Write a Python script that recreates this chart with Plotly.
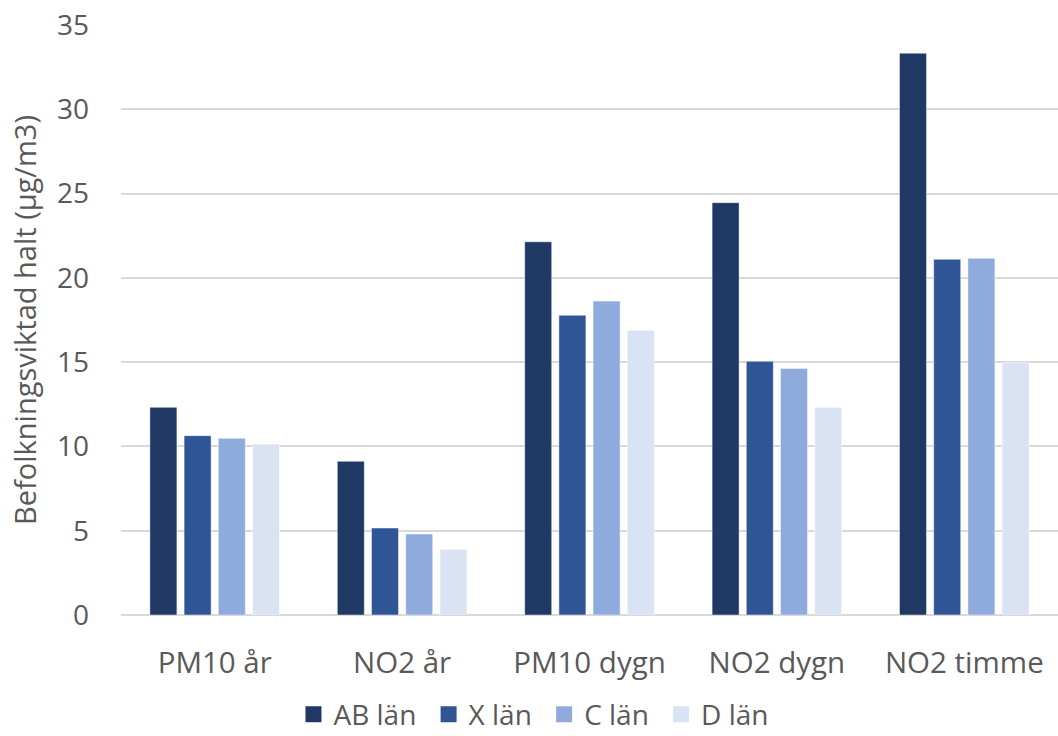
import plotly.graph_objects as go

categories = ["PM10 år", "NO2 år", "PM10 dygn", "NO2 dygn", "NO2 timme"]
series_names = ["AB län", "X län", "C län", "D län"]
ab_values = [12.32, 9.12, 22.14, 24.46, 33.33]
x_values = [10.64, 5.16, 17.78, 15.05, 21.10]
c_values = [10.48, 4.80, 18.62, 14.63, 21.16]
d_values = [10.14, 3.90, 16.89, 12.32, 14.96]
colors = ["#203864", "#2F5597", "#8FAADC", "#DAE3F3"]
y_ticks = [0, 5, 10, 15, 20, 25, 30, 35]

fig = go.Figure()
for name, vals, col in zip(series_names, [ab_values, x_values, c_values, d_values], colors):
    fig.add_trace(go.Bar(x=categories, y=vals, name=name, showlegend=False,
                         marker=dict(color=col, line=dict(color="rgba(255,255,255,0.6)", width=0.8))))
# legend entries with larger square symbols
for name, col in zip(series_names, colors):
    fig.add_trace(go.Scatter(x=[None], y=[None], mode="markers", name=name + "\u00a0",
                             marker=dict(symbol="square", size=18, color=col)))

font_family = "Open Sans, DejaVu Sans, sans-serif"
fig.update_layout(
    width=1058, height=736,
    margin=dict(l=121, r=0, t=25, b=121),
    paper_bgcolor="white", plot_bgcolor="white",
    barmode="group", bargap=0.27, bargroupgap=0.21,
    font=dict(family=font_family, color="#595959", size=29),
    showlegend=True,
    legend=dict(orientation="h", xref="container", x=0.508, xanchor="center",
                yref="container", y=0.029, yanchor="middle",
                font=dict(size=28, color="#595959"), itemwidth=30, traceorder="normal",
                itemsizing="trace", tracegroupgap=0),
    xaxis=dict(showgrid=False, showline=False, ticks="", tickfont=dict(size=29.5, color="#595959"),
               ticklabelstandoff=27),
    yaxis=dict(range=[0, 35], tickvals=y_ticks, showgrid=True, gridcolor="#D9D9D9", gridwidth=1.5,
               zeroline=True, zerolinecolor="#D9D9D9", zerolinewidth=1.5,
               tickfont=dict(size=28, color="#595959"), ticks="", ticklabelstandoff=31,
               title=dict(text="Befolkningsviktad halt (µg/m3)", font=dict(size=29, color="#595959"),
                          standoff=11)),
)
fig.write_html("out.html")
